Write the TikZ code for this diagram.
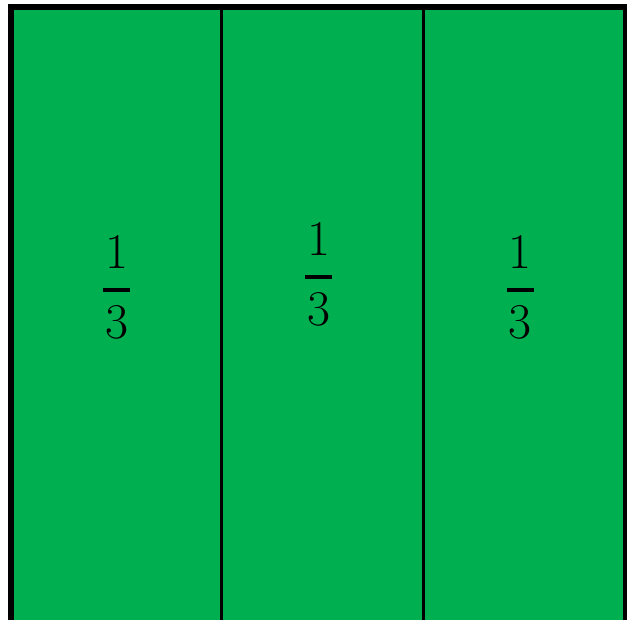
\documentclass[tikz,border=0pt]{standalone}
\definecolor{officegreen}{RGB}{0,176,80}
\tikzset{
  digit/.style={inner sep=0pt, font=\fontsize{50}{56}\selectfont},
  num/.style={digit, anchor=south},
  den/.style={digit, anchor=north},
  fracbar/.style={line width=4pt, black},
  divider/.style={line width=2.8pt, black},
  outer/.style={line width=5.8pt, black, fill=officegreen}
}
\begin{document}
\begin{tikzpicture}[x=1pt,y=-1pt]
\useasboundingbox (0,0) rectangle (627,620);
\clip (0,0) rectangle (627,620);
\draw[outer] (11.2,7.2) rectangle (626.2,623);
\coordinate (t1) at (221.3,7.2);
\coordinate (b1) at (221.3,623);
\coordinate (t2) at (423.8,7.2);
\coordinate (b2) at (423.8,623);
\draw[divider] (t1) -- (b1);
\draw[divider] (t2) -- (b2);
% left fraction (bar at 289.7)
\node[num] (f1n) at (116.5,268.7) {1};
\node[den] (f1d) at (116.5,305.2) {3};
\coordinate (f1l) at (103,289.7);
\coordinate (f1r) at (130,289.7);
\draw[fracbar] (f1l) -- (f1r);
% middle fraction (bar at 277)
\node[num] (f2n) at (318.5,256) {1};
\node[den] (f2d) at (318.5,292.5) {3};
\coordinate (f2l) at (305,277);
\coordinate (f2r) at (332,277);
\draw[fracbar] (f2l) -- (f2r);
% right fraction (bar at 289.7)
\node[num] (f3n) at (520.3,268.7) {1};
\node[den] (f3d) at (520.3,305.2) {3};
\coordinate (f3l) at (506.8,289.7);
\coordinate (f3r) at (533.8,289.7);
\draw[fracbar] (f3l) -- (f3r);
\end{tikzpicture}
\end{document}
